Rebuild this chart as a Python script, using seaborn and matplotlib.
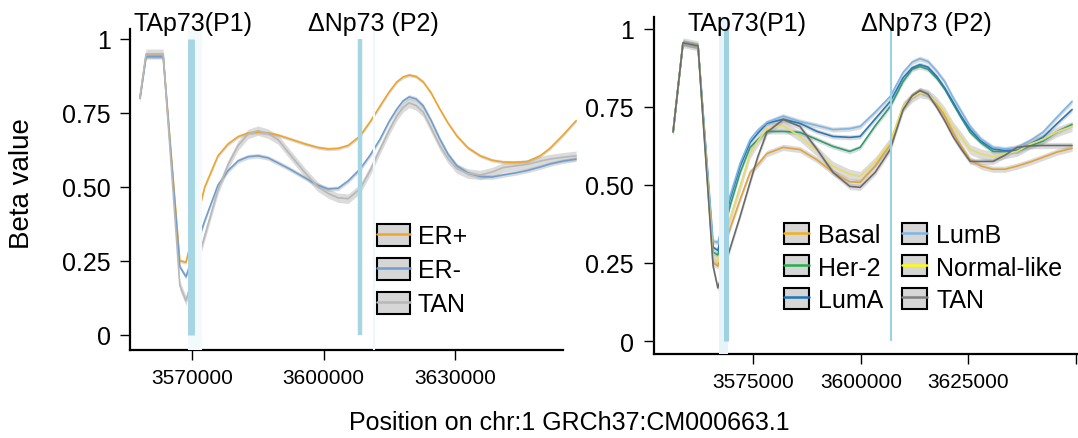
import numpy as np
import pandas as pd
import seaborn as sns
import matplotlib.pyplot as plt
from matplotlib.patches import Patch
from matplotlib.lines import Line2D
from matplotlib.legend_handler import HandlerTuple

# ---- data: left panel (ER status) ----
left_pos = [3558100, 3559500, 3563400, 3567200, 3568600, 3570700, 3572900, 3575900,
            3578200, 3580500, 3582800, 3585000, 3587300, 3589600, 3592300, 3595800,
            3598700, 3601000, 3603300, 3605600, 3608300, 3610600, 3612900, 3614900,
            3616700, 3618100, 3619500, 3621100, 3622700, 3624500, 3626500, 3628400,
            3630400, 3632900, 3635700, 3638400, 3640900, 3643700, 3646400, 3649400,
            3651600, 3654600, 3657600]
er_pos = [0.80, 0.945, 0.945, 0.25, 0.245, 0.37, 0.50, 0.605, 0.645, 0.67, 0.682, 0.685,
          0.682, 0.675, 0.662, 0.645, 0.633, 0.628, 0.630, 0.64, 0.672, 0.72, 0.774, 0.82,
          0.855, 0.871, 0.878, 0.873, 0.855, 0.818, 0.763, 0.715, 0.672, 0.632, 0.605,
          0.590, 0.584, 0.583, 0.585, 0.605, 0.63, 0.675, 0.724]
er_neg = [0.80, 0.94, 0.94, 0.23, 0.196, 0.29, 0.386, 0.506, 0.555, 0.588, 0.602, 0.605,
          0.598, 0.581, 0.56, 0.53, 0.505, 0.493, 0.495, 0.52, 0.56, 0.607, 0.662, 0.72,
          0.763, 0.79, 0.804, 0.797, 0.774, 0.725, 0.662, 0.61, 0.571, 0.547, 0.535,
          0.533, 0.54, 0.547, 0.555, 0.567, 0.577, 0.587, 0.594]
tan_left = [0.80, 0.95, 0.95, 0.166, 0.115, 0.223, 0.335, 0.49, 0.575, 0.64, 0.679, 0.69,
            0.68, 0.66, 0.61, 0.547, 0.50, 0.478, 0.463, 0.46, 0.493, 0.555, 0.628, 0.69,
            0.74, 0.768, 0.784, 0.775, 0.753, 0.70, 0.64, 0.595, 0.561, 0.545, 0.54,
            0.55, 0.565, 0.571, 0.576, 0.587, 0.594, 0.60, 0.605]
left_groups = ['ER+', 'ER-', 'TAN']
left_colors = ['#EFA52B', '#6E9FD0', '#B8B8B8']
left_band = [0.006, 0.008, 0.016]

# ---- data: right panel (PAM50 subtypes) ----
right_pos = [3556300, 3558600, 3562100, 3565600, 3566700, 3569500, 3571900, 3574200,
             3576000, 3578100, 3581900, 3585800, 3589800, 3593500, 3597400, 3599800,
             3603300, 3606800, 3609800, 3611900, 3613700, 3615600, 3617700, 3619500,
             3621400, 3623300, 3625400, 3627900, 3630700, 3633500, 3636300, 3639300,
             3642300, 3645600, 3649100]
basal = [0.67, 0.955, 0.945, 0.25, 0.24, 0.358, 0.454, 0.54, 0.565, 0.60, 0.62, 0.613,
         0.58, 0.54, 0.51, 0.508, 0.56, 0.63, 0.751, 0.785, 0.80, 0.79, 0.76, 0.72, 0.668,
         0.625, 0.58, 0.56, 0.55, 0.55, 0.56, 0.573, 0.588, 0.605, 0.617]
her2 = [0.67, 0.955, 0.945, 0.285, 0.275, 0.43, 0.54, 0.62, 0.645, 0.671, 0.671, 0.668,
        0.645, 0.623, 0.607, 0.62, 0.689, 0.751, 0.831, 0.87, 0.879, 0.87, 0.84, 0.806,
        0.76, 0.715, 0.668, 0.635, 0.607, 0.607, 0.607, 0.625, 0.64, 0.67, 0.693]
luma = [0.67, 0.955, 0.945, 0.30, 0.29, 0.453, 0.56, 0.635, 0.665, 0.697, 0.71, 0.697,
        0.671, 0.655, 0.652, 0.655, 0.711, 0.767, 0.843, 0.875, 0.885, 0.877, 0.846, 0.81,
        0.765, 0.72, 0.677, 0.64, 0.615, 0.61, 0.61, 0.63, 0.652, 0.696, 0.741]
lumb = [0.67, 0.955, 0.945, 0.32, 0.315, 0.463, 0.57, 0.645, 0.675, 0.70, 0.72, 0.703,
        0.69, 0.677, 0.68, 0.687, 0.733, 0.783, 0.86, 0.893, 0.904, 0.895, 0.863, 0.83,
        0.78, 0.736, 0.687, 0.647, 0.62, 0.615, 0.62, 0.641, 0.668, 0.717, 0.767]
normal = [0.67, 0.955, 0.945, 0.265, 0.255, 0.39, 0.495, 0.60, 0.64, 0.68, 0.69, 0.655,
          0.607, 0.559, 0.534, 0.527, 0.573, 0.636, 0.751, 0.78, 0.795, 0.79, 0.764, 0.733,
          0.687, 0.653, 0.613, 0.599, 0.59, 0.60, 0.607, 0.63, 0.645, 0.67, 0.687]
tan_right = [0.67, 0.955, 0.945, 0.24, 0.17, 0.294, 0.40, 0.508, 0.59, 0.668, 0.709, 0.687,
             0.613, 0.54, 0.495, 0.492, 0.54, 0.613, 0.741, 0.785, 0.802, 0.79, 0.747, 0.705,
             0.655, 0.615, 0.575, 0.575, 0.575, 0.595, 0.62, 0.625, 0.626, 0.626, 0.626]
right_groups = ['Basal', 'Her-2', 'LumA', 'LumB', 'Normal-like', 'TAN']
right_colors = ['#E2A33C', '#2E9E72', '#2A78B8', '#7DB6E6', '#E6DC6A', '#6A6A6A']
legend_colors = ['#F2B01E', '#22B04B', '#1C75BC', '#7FB5E6', '#FFFF00', '#808080']
right_band = [0.010, 0.008, 0.008, 0.008, 0.016, 0.010]

# promoter CpG markers (P1 / P2)
left_marks = [3569750, 3608400]
left_faint = [3611400]
right_marks = [3568600, 3607000]

left_series = [er_pos, er_neg, tan_left]
right_series = [basal, her2, luma, lumb, normal, tan_right]

df_left = pd.concat([pd.DataFrame({'pos': left_pos, 'beta': v, 'group': g})
                     for g, v in zip(left_groups, left_series)])
df_right = pd.concat([pd.DataFrame({'pos': right_pos, 'beta': v, 'group': g})
                      for g, v in zip(right_groups, right_series)])

sns.set_style('ticks')
plt.rcParams['font.family'] = ['Liberation Sans', 'DejaVu Sans']
for k in ('text.color', 'axes.labelcolor', 'xtick.color', 'ytick.color', 'axes.edgecolor'):
    plt.rcParams[k] = 'black'

W, H = 1078, 439
fig = plt.figure(figsize=(W / 100, H / 100), dpi=100)
ax1 = fig.add_axes([130 / W, 1 - 351 / H, 433 / W, 321 / H])
ax2 = fig.add_axes([653.5 / W, 1 - 355 / H, 424.5 / W, 336.7 / H])

# ribbons
for ax, pos, series, bands in [(ax1, left_pos, left_series, left_band),
                               (ax2, right_pos, right_series, right_band)]:
    for v, b in zip(series, bands):
        v = np.array(v)
        ax.fill_between(pos, v - b, v + b, color='#9a9a9a', alpha=0.35, lw=0,
                        clip_on=False, zorder=1)

sns.lineplot(data=df_left, x='pos', y='beta', hue='group', hue_order=left_groups,
             palette=left_colors, ax=ax1, legend=False, linewidth=1.2,
             estimator=None, sort=False, zorder=2)
sns.lineplot(data=df_right, x='pos', y='beta', hue='group', hue_order=right_groups,
             palette=right_colors, ax=ax2, legend=False, linewidth=1.2,
             estimator=None, sort=False, zorder=2)
for ax in (ax1, ax2):
    for ln in ax.lines:
        ln.set_clip_on(False)
        ln.set_solid_joinstyle('round')

# promoter marks
ax1.axvspan(3569050, 3572300, color='#F3FAFC', lw=0, zorder=3)
ax1.vlines(left_marks[0], 0, 1, color='#A6D6E4', lw=5.0, zorder=4)
ax1.vlines(left_marks[1], 0, 1, color='#A6D6E4', lw=3.2, zorder=4)
ax1.axvline(left_faint[0], color='#EEF7FA', lw=1.5, zorder=3)
ax2.axvspan(3566900, 3569000, color='#E6F3F8', lw=0, zorder=3)
ax2.vlines(right_marks[0], 0, 1, color='#9ED2E2', lw=3.6, zorder=4)
ax2.vlines(right_marks[1], 0, 1, color='#9ED2E2', lw=1.5, zorder=4)

# axes styling
ax1.set_xlim(3555835, 3654600)
ax1.set_ylim(-0.0517, 1.0338)
ax1.set_xticks([3570000, 3600000, 3630000])
ax2.set_xlim(3551740, 3650480)
ax2.set_ylim(-0.0416, 1.0365)
ax2.set_xticks([3575000, 3600000, 3625000, 3650000])
for ax in (ax1, ax2):
    ticks = ax.get_xticks()
    ax.set_yticks([0, 0.25, 0.5, 0.75, 1])
    ax.set_yticklabels(['0', '0.25', '0.50', '0.75', '1'])
    ax.set_xticklabels([str(int(t)) if i < 3 else '' for i, t in enumerate(ticks)])
    ax.tick_params(axis='y', labelsize=18, length=7, width=1, pad=7)
    ax.tick_params(axis='x', labelsize=15, length=7, width=1, pad=6)
    ax.set_xlabel('')
    ax.set_ylabel('')
    sns.despine(ax=ax)
    for s in ('left', 'bottom'):
        ax.spines[s].set_linewidth(1.6)

# legends
def make_handles(colors):
    return [(Patch(facecolor='#D6D6D6', edgecolor='black', linewidth=1.5),
             Line2D([], [], color=c, lw=1.8)) for c in colors]

ax1.legend(make_handles(left_colors), left_groups, handler_map={tuple: HandlerTuple(ndivide=1)},
           loc='upper left', bbox_to_anchor=(377 / W, 1 - 225 / H), bbox_transform=fig.transFigure,
           frameon=False, fontsize=18, borderpad=0, borderaxespad=0, handlelength=1.32,
           handleheight=0.96, handletextpad=0.32, labelspacing=0.38)
ax2.legend(make_handles(legend_colors), right_groups, handler_map={tuple: HandlerTuple(ndivide=1)},
           ncol=2, loc='upper left', bbox_to_anchor=(784 / W, 1 - 224 / H), bbox_transform=fig.transFigure,
           frameon=False, fontsize=18, borderpad=0, borderaxespad=0, handlelength=1.0,
           handleheight=0.92, handletextpad=0.36, labelspacing=0.33, columnspacing=0.76)

# annotations
for x, txt in [(134, 'TAp73(P1)'), (308, 'ΔNp73 (P2)'), (688, 'TAp73(P1)'), (861, 'ΔNp73 (P2)')]:
    fig.text(x / W, 1 - 24 / H, txt, ha='left', va='center', fontsize=18)

fig.text(22.5 / W, 1 - 184 / H, 'Beta value', rotation=90, ha='center', va='center', fontsize=20)
fig.text(569 / W, 1 - 423 / H, 'Position on chr:1 GRCh37:CM000663.1', ha='center', va='center', fontsize=18)

fig.savefig('out.png', dpi=100)
